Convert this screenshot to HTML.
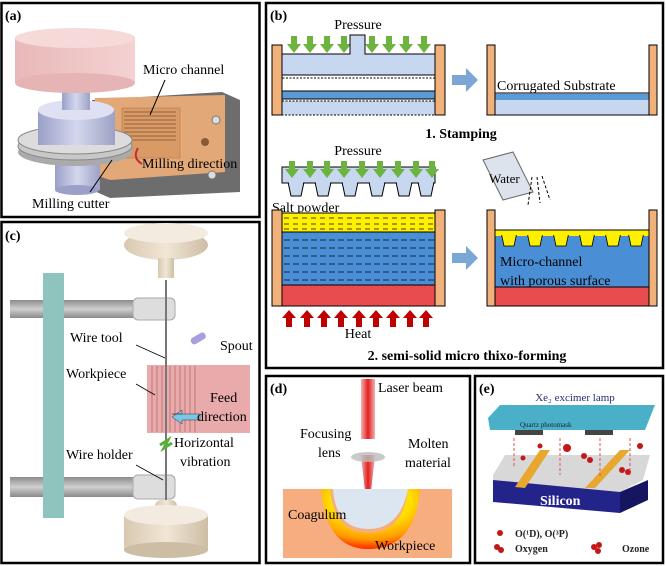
<!DOCTYPE html><html><head><style>body{margin:0;background:#fff}svg{display:block}text{font-family:"Liberation Serif",serif}</style></head><body>
<svg width="666" height="566" viewBox="0 0 666 566" xmlns="http://www.w3.org/2000/svg">
<defs>
<linearGradient id="pk" x1="0" x2="1"><stop offset="0" stop-color="#e9b8b8"/><stop offset="1" stop-color="#f4d2d2"/></linearGradient>
<linearGradient id="lv" x1="0" x2="1"><stop offset="0" stop-color="#9aa0c8"/><stop offset=".5" stop-color="#d4d7ee"/><stop offset="1" stop-color="#9da2c4"/></linearGradient>
<linearGradient id="bg" x1="0" x2="1"><stop offset="0" stop-color="#d8c8b0"/><stop offset=".5" stop-color="#f1e6d6"/><stop offset="1" stop-color="#cdbda4"/></linearGradient>
<linearGradient id="gr" x1="0" y1="0" x2="0" y2="1"><stop offset="0" stop-color="#8c8c8c"/><stop offset=".5" stop-color="#cfcfcf"/><stop offset="1" stop-color="#8a8a8a"/></linearGradient>
<radialGradient id="crt" cx=".5" cy=".2" r=".8"><stop offset=".5" stop-color="#ffe000"/><stop offset=".8" stop-color="#ff9a00"/><stop offset="1" stop-color="#ff2a00"/></radialGradient>
<linearGradient id="las" x1="0" x2="1"><stop offset="0" stop-color="#f7b0b0"/><stop offset=".5" stop-color="#e02020"/><stop offset="1" stop-color="#f7b0b0"/></linearGradient>
<path id="ga" d="M291 36h6v8h4l-7 9-7-9h4z"/>
<path id="ra" d="M286 327v-9h-4l7-8 7 8h-4v9z"/>
<path id="tooth" d="M0 0h16l-3 14h-10z"/>
</defs>
<g fill="none" stroke="#000" stroke-width="2.5">
<rect x="1.5" y="3" width="258" height="214"/>
<rect x="266" y="3" width="397" height="365"/>
<rect x="1.5" y="222" width="258" height="341"/>
<rect x="266" y="376" width="204" height="187"/>
<rect x="475" y="376" width="188" height="187"/>
</g>
<g font-size="14" font-weight="bold"><text x="5" y="20">(a)</text><text x="270" y="20">(b)</text><text x="5" y="240">(c)</text><text x="270" y="393">(d)</text><text x="479" y="393">(e)</text></g>

<!-- (a) -->
<polygon points="92,100 222,92 240,100 240,192 110,198 92,190" fill="#6d6d6d"/>
<polygon points="95,98 225,95 225,172 110,180 95,175" fill="#e3a878"/>
<rect x="122" y="108" width="58" height="50" fill="#d99a66" stroke="#a87048" stroke-width=".5"/>
<g stroke="#7a4e30" stroke-width=".8"><line x1="124" y1="112" x2="176" y2="112"/><line x1="124" y1="116" x2="176" y2="116"/><line x1="124" y1="120" x2="176" y2="120"/><line x1="124" y1="124" x2="176" y2="124"/><line x1="124" y1="128" x2="176" y2="128"/><line x1="124" y1="132" x2="176" y2="132"/><line x1="124" y1="136" x2="176" y2="136"/><line x1="124" y1="140" x2="176" y2="140"/></g>
<circle cx="216" cy="120" r="4" fill="#ddd" stroke="#777"/><circle cx="212" cy="175" r="4" fill="#ddd" stroke="#777"/><circle cx="205" cy="142" r="4" fill="#8a5a38"/>
<rect x="55" y="160" width="45" height="30" fill="url(#lv)"/><ellipse cx="77" cy="190" rx="22" ry="5" fill="#9aa0c8"/>
<ellipse cx="75" cy="152" rx="57" ry="14" fill="#aaa"/><ellipse cx="75" cy="146" rx="57" ry="14" fill="#c8c8c8" stroke="#888"/><ellipse cx="75" cy="140" rx="57" ry="14" fill="#dcdcdc" stroke="#888"/>
<rect x="38" y="110" width="77" height="35" fill="url(#lv)"/><ellipse cx="76" cy="110" rx="38" ry="10" fill="#dfe1f2"/>
<rect x="62" y="85" width="28" height="25" fill="url(#lv)"/>
<rect x="15" y="38" width="120" height="45" fill="url(#pk)"/><ellipse cx="75" cy="83" rx="60" ry="10" fill="#e6b4b4"/><ellipse cx="75" cy="38" rx="60" ry="10" fill="#f6dada"/>
<path d="M138 148 q-6 10 4 16" stroke="#c03030" stroke-width="2" fill="none"/>
<g font-size="14"><text x="143" y="74">Micro channel</text><text x="142" y="168">Milling direction</text><text x="32" y="208">Milling cutter</text></g>
<g stroke="#000" stroke-width="1"><line x1="165" y1="80" x2="150" y2="115"/><line x1="112" y1="160" x2="90" y2="192"/></g>

<!-- (b) stamping -->
<g fill="#6cb33f"><use href="#ga"/><use href="#ga" x="16"/><use href="#ga" x="33"/><use href="#ga" x="50"/><use href="#ga" x="78"/><use href="#ga" x="95"/><use href="#ga" x="112"/><use href="#ga" x="130"/></g>
<path d="M282 54h68v-19h15v19h70v21h-153z" fill="#c6d7ef" stroke="#000"/>
<path d="M282 75v3h153v-3" fill="none" stroke="#000" stroke-dasharray="2 1.5"/>
<rect x="282" y="91" width="153" height="8" fill="#5b9bd5" stroke="#000"/>
<rect x="282" y="101" width="153" height="14" fill="#c6d7ef" stroke="#000" stroke-dasharray="2 1.5"/>
<rect x="272" y="45" width="10" height="70" fill="#f0b27a" stroke="#000"/><rect x="435" y="45" width="10" height="70" fill="#f0b27a" stroke="#000"/>
<path d="M452 75h14v-7l12 12-12 12v-7h-14z" fill="#7ba7d7"/>
<rect x="495" y="93" width="154" height="22" fill="#c6d7ef" stroke="#000"/>
<rect x="495" y="94" width="154" height="6" fill="#5b9bd5"/>
<rect x="487" y="45" width="8" height="70" fill="#f0b27a" stroke="#000"/><rect x="649" y="45" width="8" height="70" fill="#f0b27a" stroke="#000"/>
<g font-size="14"><text x="358" y="29" text-anchor="middle">Pressure</text><text x="497" y="90">Corrugated Substrate</text>
<text x="461" y="138" text-anchor="middle" font-weight="bold">1. Stamping</text><text x="358" y="155" text-anchor="middle">Pressure</text>
<text x="272" y="212">Salt powder</text><text x="358" y="338" text-anchor="middle">Heat</text>
<text x="467" y="360" text-anchor="middle" font-weight="bold">2. semi-solid micro thixo-forming</text></g>
<!-- (b) thixo punch -->
<g fill="#c6d7ef" stroke="#000"><use href="#tooth" x="288" y="182"/><use href="#tooth" x="315" y="182"/><use href="#tooth" x="342" y="182"/><use href="#tooth" x="369" y="182"/><use href="#tooth" x="396" y="182"/><use href="#tooth" x="418" y="182"/></g>
<rect x="282" y="167" width="153" height="16" fill="#c6d7ef" stroke="#000"/>
<g fill="#c6d7ef"><rect x="289" y="181" width="14" height="4"/><rect x="316" y="181" width="14" height="4"/><rect x="343" y="181" width="14" height="4"/><rect x="370" y="181" width="14" height="4"/><rect x="397" y="181" width="14" height="4"/><rect x="419" y="181" width="14" height="4"/></g>
<g fill="#6cb33f"><use href="#ga" y="125" x="-2"/><use href="#ga" y="125" x="16"/><use href="#ga" y="125" x="33"/><use href="#ga" y="125" x="50"/><use href="#ga" y="125" x="68"/><use href="#ga" y="125" x="86"/><use href="#ga" y="125" x="104"/><use href="#ga" y="125" x="122"/><use href="#ga" y="125" x="138"/></g>
<path d="M483 160l30-8 20 40-30 8z" fill="#dde3ec" stroke="#666"/><text x="489" y="183" font-size="13">Water</text>
<g stroke="#000" stroke-dasharray="3 2"><line x1="532" y1="177" x2="528" y2="205"/><line x1="537" y1="177" x2="540" y2="203"/><line x1="542" y1="176" x2="550" y2="200"/></g>
<rect x="282" y="213" width="153" height="19" fill="#ffef00" stroke="#000"/>
<rect x="282" y="232" width="153" height="53" fill="#4a8ed6" stroke="#000"/>
<g stroke="#000" stroke-width="1" fill="none" opacity=".7"><path d="M284 240h150M284 248h150M284 256h150M284 264h150M284 272h150M284 280h150" stroke-dasharray="6 3"/><path d="M284 218h150M284 224h150M284 229h150" stroke-dasharray="5 4"/></g>
<rect x="282" y="285" width="153" height="21" fill="#e84c4f" stroke="#000"/>
<rect x="272" y="210" width="10" height="96" fill="#f0b27a" stroke="#000"/><rect x="435" y="210" width="10" height="96" fill="#f0b27a" stroke="#000"/>
<g fill="#c00000"><use href="#ra"/><use href="#ra" x="18"/><use href="#ra" x="35"/><use href="#ra" x="52"/><use href="#ra" x="70"/><use href="#ra" x="87"/><use href="#ra" x="104"/><use href="#ra" x="121"/><use href="#ra" x="137"/></g>
<path d="M452 253h14v-7l12 12-12 12v-7h-14z" fill="#7ba7d7"/>
<rect x="495" y="230" width="154" height="57" fill="#4a8ed6"/>
<rect x="495" y="230" width="154" height="6" fill="#ffef00"/>
<g fill="#ffef00" stroke="#000" stroke-width=".8"><use href="#tooth" x="501" y="232"/><use href="#tooth" x="527" y="232"/><use href="#tooth" x="553" y="232"/><use href="#tooth" x="579" y="232"/><use href="#tooth" x="605" y="232"/><use href="#tooth" x="628" y="232"/></g>
<rect x="495" y="230" width="154" height="5" fill="#ffef00"/>
<line x1="495" y1="230" x2="649" y2="230" stroke="#000"/>
<text x="500" y="266" font-size="14">Micro-channel</text><text x="500" y="285" font-size="14">with porous surface</text>
<rect x="495" y="287" width="154" height="19" fill="#e84c4f" stroke="#000"/>
<rect x="487" y="210" width="8" height="96" fill="#f0b27a" stroke="#000"/><rect x="649" y="210" width="8" height="96" fill="#f0b27a" stroke="#000"/>

<!-- (c) -->
<rect x="10" y="300" width="165" height="18" fill="url(#gr)"/><rect x="10" y="477" width="165" height="20" fill="url(#gr)"/>
<rect x="43" y="273" width="21" height="245" fill="#8fc3bd"/>
<rect x="133" y="298" width="42" height="22" rx="5" fill="#ddd" stroke="#aaa"/><rect x="133" y="475" width="42" height="24" rx="5" fill="#ddd" stroke="#aaa"/>
<line x1="166" y1="280" x2="166" y2="510" stroke="#777" stroke-width="2"/>
<rect x="147" y="365" width="103" height="68" fill="#e8aaaa"/>
<g stroke="#c07878" stroke-width="1"><line x1="152" y1="366" x2="152" y2="432"/><line x1="157" y1="366" x2="157" y2="432"/><line x1="162" y1="366" x2="162" y2="432"/><line x1="170" y1="366" x2="170" y2="432"/><line x1="175" y1="366" x2="175" y2="432"/><line x1="180" y1="366" x2="180" y2="432"/><line x1="185" y1="366" x2="185" y2="432"/><line x1="190" y1="366" x2="190" y2="432"/><line x1="195" y1="366" x2="195" y2="432"/></g>
<line x1="166" y1="365" x2="166" y2="433" stroke="#777" stroke-width="2"/>
<path d="M172 414h10v-4l-10 7 10 7v-4h18v-6z" fill="#7cc4e8" stroke="#333" stroke-width=".5"/>
<rect x="190" y="335" width="16" height="7" rx="3" fill="#a7a0dc" transform="rotate(-30 198 338)"/>
<path d="M160 445l8-5-4 8 8-5" stroke="#5aae3c" stroke-width="3" fill="none"/>
<ellipse cx="166" cy="245" rx="42" ry="15" fill="url(#bg)"/><ellipse cx="166" cy="233" rx="42" ry="10" fill="#f3ebe0"/><rect x="158" y="258" width="16" height="20" fill="url(#bg)"/>
<rect x="155" y="500" width="22" height="15" rx="6" fill="url(#bg)"/><rect x="124" y="515" width="84" height="35" fill="url(#bg)"/><ellipse cx="166" cy="515" rx="42" ry="10" fill="#f3ebe0"/><ellipse cx="166" cy="550" rx="42" ry="8" fill="#cdbda4"/>
<g font-size="14"><text x="70" y="342">Wire tool</text><text x="220" y="350">Spout</text><text x="66" y="378">Workpiece</text><text x="210" y="402">Feed</text><text x="197" y="421">direction</text><text x="174" y="447">Horizontal</text><text x="180" y="466">vibration</text><text x="66" y="459">Wire holder</text></g>
<g stroke="#000" stroke-width=".8"><line x1="136" y1="345" x2="165" y2="358"/><line x1="136" y1="384" x2="155" y2="395"/><line x1="136" y1="465" x2="163" y2="480"/></g>

<!-- (d) -->
<rect x="361" y="379" width="14" height="60" fill="url(#las)"/>
<polygon points="361,455 375,455 369,510 367,510" fill="url(#las)"/>
<ellipse cx="368" cy="457" rx="17" ry="5" fill="#bbb" opacity=".8"/>
<rect x="283" y="489" width="169" height="69" fill="#f6ae80"/>
<path d="M321 489q5 60 47 60q47 0 52-60h-12q-5 44-40 44q-34 0-38-44z" fill="url(#crt)"/>
<path d="M333 489q3 40 35 40q32 0 40-40z" fill="#dbe6f0"/>
<g font-size="14"><text x="378" y="392">Laser beam</text><text x="300" y="438">Focusing</text><text x="318" y="457">lens</text><text x="408" y="448">Molten</text><text x="405" y="467">material</text><text x="288" y="519">Coagulum</text><text x="375" y="550">Workpiece</text></g>

<!-- (e) -->
<text x="575" y="401" font-family="Liberation Sans" font-size="11" fill="#2a2a7a" text-anchor="middle">Xe₂ excimer lamp</text>
<polygon points="488,418 500,405 655,405 645,430 490,430" fill="#4ab0c8"/>
<rect x="515" y="430" width="28" height="5" fill="#444"/><rect x="585" y="430" width="28" height="5" fill="#444"/>
<text x="520" y="427" font-family="Liberation Sans" font-size="7" fill="#123">Quartz photomask</text>
<polygon points="493,475 505,455 650,455 643,480 620,492 493,492" fill="#d8d8d8"/>
<polygon points="493,480 620,492 620,513 493,502" fill="#23248a"/><polygon points="620,492 648,480 648,500 620,513" fill="#161660"/>
<polygon points="515,487 540,450 550,450 525,488" fill="#e8a830"/><polygon points="585,488 620,450 630,450 595,488" fill="#e8a830"/>
<text x="540" y="505" font-family="Liberation Sans" font-size="14" font-weight="bold" fill="#fff">Silicon</text>
<g fill="#c41818"><circle cx="567" cy="448" r="4"/><circle cx="540" cy="446" r="2.5"/><circle cx="584" cy="456" r="3"/><circle cx="590" cy="460" r="3"/><circle cx="640" cy="446" r="3"/><circle cx="622" cy="470" r="3"/><circle cx="628" cy="472" r="3"/><circle cx="523" cy="458" r="2.5"/>
<circle cx="500" cy="533" r="3"/><circle cx="497" cy="547" r="3"/><circle cx="501" cy="550" r="3"/><circle cx="594" cy="547" r="3"/><circle cx="599" cy="545" r="3"/><circle cx="598" cy="551" r="3"/></g>
<g stroke="#e05050" stroke-dasharray="3 2"><line x1="514" y1="438" x2="514" y2="468"/><line x1="560" y1="438" x2="560" y2="475"/><line x1="600" y1="438" x2="600" y2="478"/><line x1="630" y1="438" x2="630" y2="475"/></g>
<g font-family="Liberation Sans" font-size="10" font-weight="bold" fill="#222"><text x="515" y="537">O(¹D), O(³P)</text><text x="515" y="552">Oxygen</text><text x="622" y="552">Ozone</text></g>
</svg>
</body></html>
